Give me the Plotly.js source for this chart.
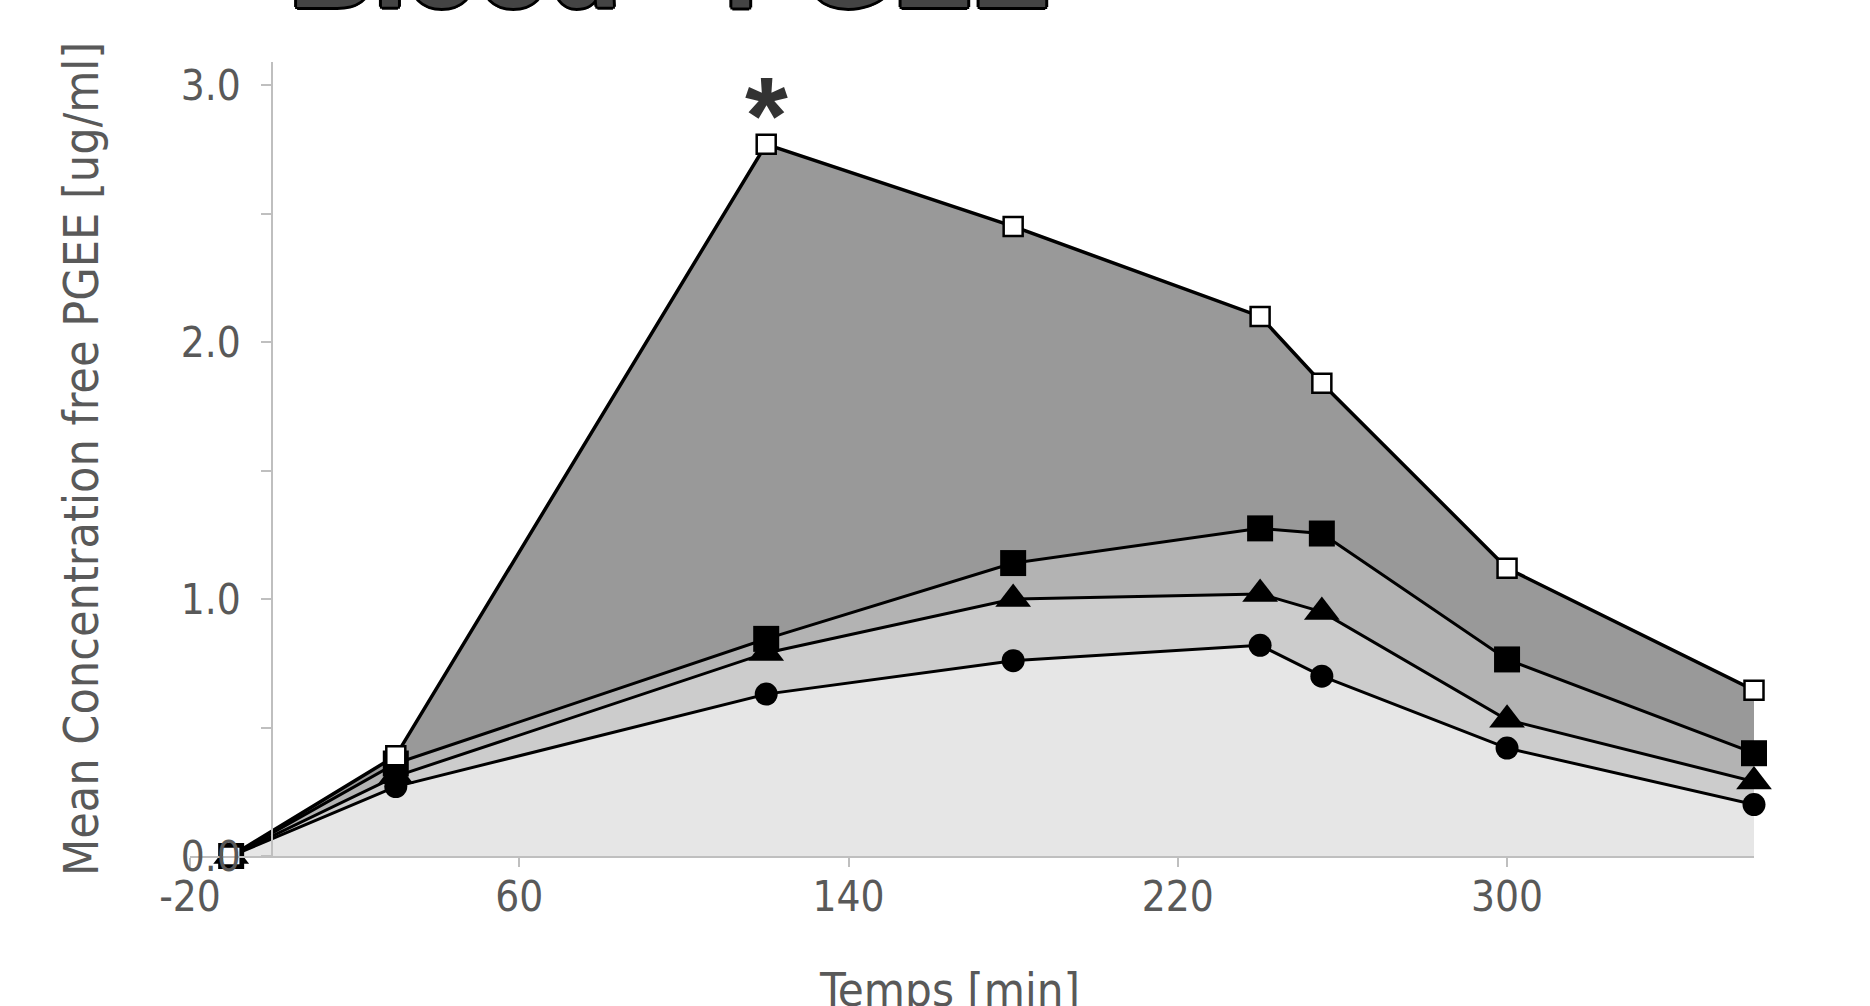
<!DOCTYPE html>
<html>
<head>
<meta charset="utf-8">
<script src="https://cdn.plot.ly/plotly-3.0.1.min.js"></script>
<style>html,body{margin:0;padding:0;background:#fff;}#chart{width:1870px;height:1006px;}</style>
</head>
<body>
<div id="chart"></div>
<script>
// ---- data ----
var timeMin = [-10, 30, 120, 180, 240, 255, 300, 360];
var seriesCircle = [0, 0.27, 0.63, 0.76, 0.82, 0.70, 0.42, 0.20];
var seriesTriangle = [0, 0.31, 0.79, 1.00, 1.02, 0.95, 0.53, 0.29];
var seriesFilledSquare = [0, 0.36, 0.845, 1.14, 1.275, 1.255, 0.765, 0.40];
var seriesOpenSquare = [0, 0.39, 2.77, 2.45, 2.10, 1.84, 1.12, 0.645];
var xTickVals = [-20, 60, 140, 220, 300];
var xTickText = ['-20', '60', '140', '220', '300'];
var yTickVals = [0, 0.5, 1, 1.5, 2, 2.5, 3];
var yTickText = ['0.0', '', '1.0', '', '2.0', '', '3.0'];
var chartTitle = 'Blood - PGEE';
var xTitle = 'Temps [min]';
var yTitle = 'Mean Concentration free PGEE [ug/ml]';
var significanceMark = '*';

var xRange = [-20, 360];
var yRange = [0, 3.09];
var narrow = '"Liberation Sans Narrow", "DejaVu Sans Condensed", "Liberation Sans", sans-serif';
var textGray = '#595959';
var axisGray = '#bfbfbf';

function trace(y, fill, fillcolor, symbol, size, mfill, lw) {
  return {
    x: timeMin, y: y, type: 'scatter', mode: 'lines+markers',
    fill: fill, fillcolor: fillcolor,
    line: {color: '#000', width: lw},
    marker: {symbol: symbol, size: size, color: mfill, line: {color: '#000', width: mfill === '#fff' ? 2.5 : 0}},
    cliponaxis: false, showlegend: false, hoverinfo: 'x+y'
  };
}

var data = [
  trace(seriesCircle, 'tozeroy', '#e6e6e6', 'circle', 23, '#000', 3),
  trace(seriesTriangle, 'tonexty', '#cccccc', 'triangle-up', 31, '#000', 3),
  trace(seriesFilledSquare, 'tonexty', '#b3b3b3', 'square', 26, '#000', 3),
  trace(seriesOpenSquare, 'tonexty', '#999999', 'square', 19, '#fff', 3.5)
];

var yPos = (0 - xRange[0]) / (xRange[1] - xRange[0]);
var peakIdx = seriesOpenSquare.indexOf(Math.max.apply(null, seriesOpenSquare));

var layout = {
  width: 1870, height: 1006,
  paper_bgcolor: '#fff', plot_bgcolor: 'rgba(0,0,0,0)',
  margin: {l: 190, r: 116, t: 62, b: 150},
  title: {
    text: chartTitle, x: 0.358, xanchor: 'center', xref: 'container',
    y: 0.993, yanchor: 'bottom', yref: 'container',
    font: {family: '"Liberation Sans", Arial, sans-serif', size: 117, weight: 'bold', color: '#444',
           shadow: '2px 2px 0 #000, -2px -2px 0 #000, 2px -2px 0 #000, -2px 2px 0 #000, 0 3px 0 #000, 3px 0 0 #000, 0 -3px 0 #000, -3px 0 0 #000'}
  },
  xaxis: {
    range: xRange, domain: [0, 1],
    tickvals: xTickVals, ticktext: xTickText,
    ticks: 'outside', ticklen: 9, tickwidth: 2, tickcolor: axisGray,
    showline: true, linecolor: axisGray, linewidth: 2,
    showgrid: false, zeroline: false,
    tickfont: {family: narrow, size: 42, color: textGray},
    ticklabelstandoff: -6
  },
  yaxis: {
    range: yRange, anchor: 'free', position: yPos,
    tickvals: yTickVals, ticktext: yTickText,
    ticks: 'outside', ticklen: 10, tickwidth: 2, tickcolor: axisGray,
    showline: true, linecolor: axisGray, linewidth: 2,
    showgrid: false, zeroline: false,
    tickfont: {family: narrow, size: 42, color: textGray},
    ticklabelstandoff: 12,
    title: {text: yTitle, font: {family: narrow, size: 48, color: textGray}, standoff: 66}
  },
  yaxis2: {
    range: yRange, overlaying: 'y', anchor: 'free', position: yPos,
    tickvals: yTickVals, ticks: 'inside', ticklen: 10, tickwidth: 2, tickcolor: axisGray,
    showticklabels: false, showline: false, showgrid: false, zeroline: false
  },
  annotations: [{
    x: timeMin[peakIdx], y: seriesOpenSquare[peakIdx], xref: 'x', yref: 'y',
    text: significanceMark, showarrow: false, yanchor: 'bottom', yshift: -34,
    font: {family: '"Liberation Sans", Arial, sans-serif', size: 110, weight: 'bold', color: '#333'}
  }, {
    x: 0.4856, y: 0, xref: 'paper', yref: 'paper', xanchor: 'center', yanchor: 'top',
    yshift: -104, showarrow: false, text: xTitle,
    font: {family: narrow, size: 47, color: textGray}
  }]
};

Plotly.newPlot('chart', data, layout, {displayModeBar: false, staticPlot: true});
</script>
</body>
</html>
